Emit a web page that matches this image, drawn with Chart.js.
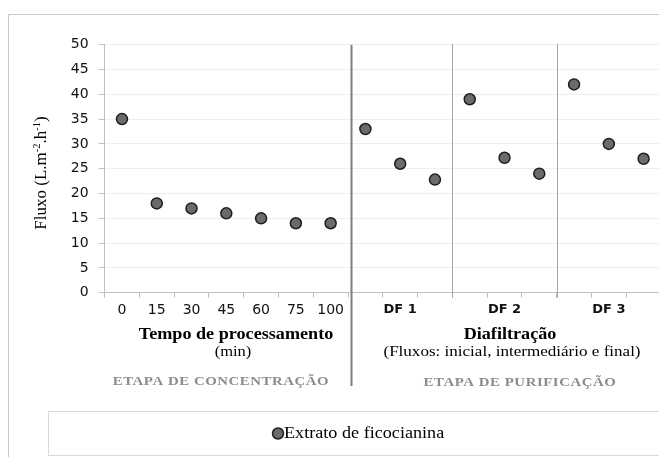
<!DOCTYPE html>
<html>
<head>
<meta charset="utf-8">
<script src="https://cdn.jsdelivr.net/npm/chart.js@4"></script>
<style>
  html, body { margin: 0; padding: 0; background: #fff; overflow: hidden; }
  #wrap { position: relative; width: 668px; height: 457px; }
</style>
</head>
<body>
<div id="wrap"><canvas id="chart-area" width="668" height="457"></canvas></div>
<script>
// categories on the x axis (7 times, then 3 readings for each diafiltration)
var categories = ['0', '15', '30', '45', '60', '75', '100', '', 'DF 1', '', '', 'DF 2', '', '', 'DF 3', ''];
var concentracao = [35, 18, 17, 16, 15, 14, 14];
var diafiltracao = [33, 26, 22.8, 39, 27.2, 24, 42, 30, 27];
var fluxo = concentracao.concat(diafiltracao);
var yTicks = [0, 5, 10, 15, 20, 25, 30, 35, 40, 45, 50];

var serif = '"Liberation Serif", "Times New Roman", serif';
var sans = '"DejaVu Sans", Verdana, sans-serif';
var pointFill = '#6f6a6a';
var pointEdge = '#1e1e1e';

// horizontally stretched serif text, like the original picture
function stretchText(ctx, text, x, y, font, color, spacing) {
  ctx.save();
  ctx.translate(x, y);
  ctx.scale(1.1, 1);
  ctx.font = font;
  ctx.fillStyle = color;
  ctx.textAlign = 'center';
  ctx.textBaseline = 'middle';
  if (spacing) ctx.letterSpacing = spacing;
  ctx.fillText(text, 0, 0);
  ctx.restore();
}

var decor = {
  id: 'decor',
  afterDraw: function (chart) {
    var ctx = chart.ctx;
    var area = chart.chartArea;
    var x = chart.scales.x;

    ctx.save();
    // outer frame
    ctx.strokeStyle = '#c8c8c8';
    ctx.lineWidth = 1;
    ctx.beginPath();
    ctx.moveTo(8.5, 457);
    ctx.lineTo(8.5, 14.5);
    ctx.lineTo(668, 14.5);
    ctx.stroke();

    // group separators for DF 1 / DF 2 / DF 3
    ctx.strokeStyle = '#a6a6a6';
    [9.5, 12.5].forEach(function (v) {
      var px = Math.round(x.getPixelForValue(v)) + 0.5;
      ctx.beginPath();
      ctx.moveTo(px, area.top - 1);
      ctx.lineTo(px, area.bottom + 5);
      ctx.stroke();
    });

    // thick separator between the two stages
    var sx = x.getPixelForValue(6.6);
    ctx.strokeStyle = '#7f7f7f';
    ctx.lineWidth = 2;
    ctx.beginPath();
    ctx.moveTo(sx, area.top);
    ctx.lineTo(sx, 386);
    ctx.stroke();
    ctx.restore();

    // axis titles under the categories
    stretchText(ctx, 'Tempo de processamento', 236, 335, 'bold 16.5px ' + serif, '#000');
    stretchText(ctx, '(min)', 233, 352, '15px ' + serif, '#000');
    stretchText(ctx, 'Diafiltração', 510, 335, 'bold 16.5px ' + serif, '#000');
    stretchText(ctx, '(Fluxos: inicial, intermediário e final)', 512, 352, '15.5px ' + serif, '#000');
    stretchText(ctx, 'ETAPA DE CONCENTRAÇÃO', 221, 382, 'bold 13.5px ' + serif, '#8c8c8c', '0.5px');
    stretchText(ctx, 'ETAPA DE PURIFICAÇÃO', 520, 383, 'bold 13.5px ' + serif, '#8c8c8c', '0.5px');

    // y axis title with superscripts
    ctx.save();
    ctx.translate(40, 173);
    ctx.rotate(-Math.PI / 2);
    ctx.fillStyle = '#000';
    ctx.textBaseline = 'alphabetic';
    var parts = [['Fluxo (L.m', 17, 0], ['-2', 10.5, -6], ['.h', 17, 0], ['-1', 10.5, -6], [')', 17, 0]];
    var total = 0;
    parts.forEach(function (p) { ctx.font = p[1] + 'px ' + serif; total += ctx.measureText(p[0]).width; });
    var cx = -total / 2;
    parts.forEach(function (p) {
      ctx.font = p[1] + 'px ' + serif;
      ctx.fillText(p[0], cx, 6 + p[2]);
      cx += ctx.measureText(p[0]).width;
    });
    ctx.restore();

    // legend box
    ctx.save();
    ctx.strokeStyle = '#d9d9d9';
    ctx.lineWidth = 1;
    ctx.strokeRect(48.5, 411.5, 640, 44);
    ctx.beginPath();
    ctx.arc(278, 433.5, 5.5, 0, Math.PI * 2);
    ctx.fillStyle = pointFill;
    ctx.fill();
    ctx.lineWidth = 1.5;
    ctx.strokeStyle = pointEdge;
    ctx.stroke();
    ctx.restore();
    ctx.save();
    ctx.translate(284, 433.5);
    ctx.scale(1.1, 1);
    ctx.font = '16.5px ' + serif;
    ctx.fillStyle = '#000';
    ctx.textAlign = 'left';
    ctx.textBaseline = 'middle';
    ctx.fillText('Extrato de ficocianina', 0, 0);
    ctx.restore();
  }
};

var ctx = document.getElementById('chart-area').getContext('2d');
var chart = new Chart(ctx, {
  type: 'line',
  data: {
    labels: categories,
    datasets: [{
      label: 'Extrato de ficocianina',
      data: fluxo,
      showLine: false,
      pointRadius: 5.5,
      pointHoverRadius: 5.5,
      pointBorderWidth: 1.5,
      pointBackgroundColor: pointFill,
      pointBorderColor: pointEdge
    }]
  },
  options: {
    responsive: false,
    animation: false,
    layout: { padding: { top: 44.7, right: 5.5, bottom: 0, left: 0 } },
    plugins: {
      legend: { display: false },
      tooltip: { enabled: false }
    },
    scales: {
      x: {
        type: 'category',
        offset: true,
        afterFit: function (scale) { scale.height = 457 - 292.7; },
        grid: {
          offset: true,
          drawOnChartArea: false,
          tickLength: 5,
          tickColor: '#bfbfbf'
        },
        border: { color: '#bfbfbf' },
        ticks: {
          autoSkip: false,
          maxRotation: 0,
          padding: 4,
          color: '#111',
          font: function (c) {
            var lbl = c.tick && c.tick.label ? String(c.tick.label) : '';
            return lbl.indexOf('DF') === 0
              ? { family: sans, size: 13, weight: 'bold' }
              : { family: sans, size: 14 };
          }
        }
      },
      y: {
        min: 0,
        max: 50,
        afterFit: function (scale) { scale.width = 104.6; },
        afterBuildTicks: function (scale) {
          scale.ticks = yTicks.map(function (v) { return { value: v }; });
        },
        grid: {
          color: '#eeeeee',
          tickColor: '#bfbfbf',
          tickLength: 6
        },
        border: { color: '#bfbfbf' },
        ticks: {
          padding: 10,
          color: '#111',
          font: { family: sans, size: 14 }
        }
      }
    }
  },
  plugins: [decor]
});
</script>
</body>
</html>
